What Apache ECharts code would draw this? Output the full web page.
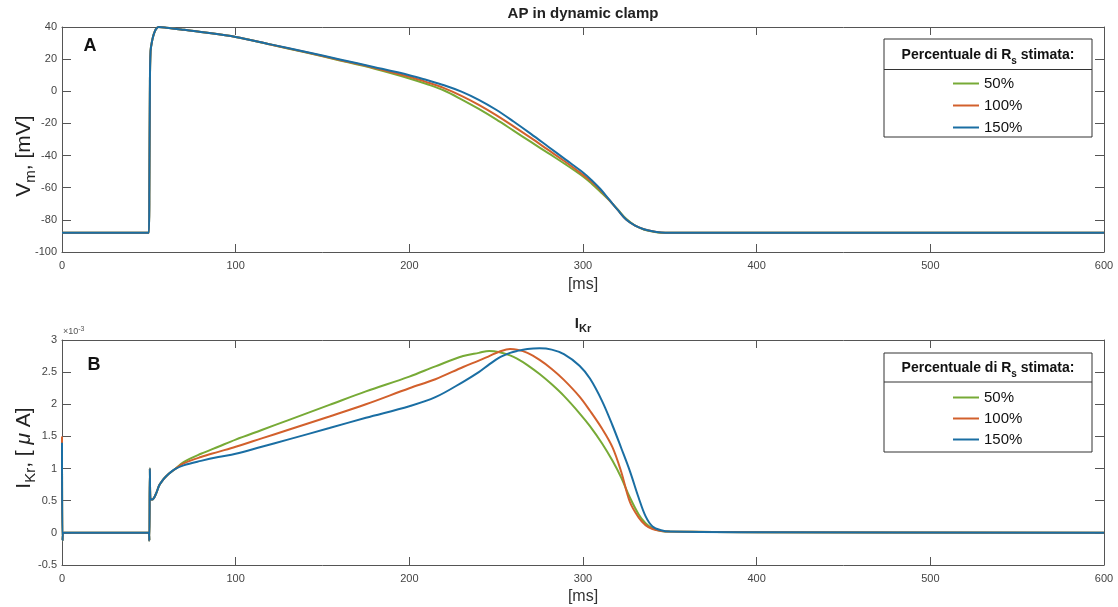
<!DOCTYPE html>
<html><head><meta charset="utf-8">
<script src="https://cdn.jsdelivr.net/npm/echarts@6/dist/echarts.min.js"></script>
<style>html,body{margin:0;padding:0;background:#fff}#c{width:1118px;height:607px}</style>
</head><body><div id="c"></div>
<script>
// ---------- data ----------
const seriesNames = ['50%', '100%', '150%'];
const seriesColors = ['#77AA36', '#D2602C', '#1A6EA3'];

// Panel A: membrane potential [mV] vs time [ms]
const tA = [0, 50, 50.3, 50.6, 51, 52, 53, 54, 55.5, 60,
  70, 80, 100, 120, 140, 160, 180, 200, 210, 220,
  230, 240, 250, 260, 270, 280, 290, 300, 305, 310,
  315, 320, 325, 330, 335, 340, 345, 350, 360, 400,
  500, 600];
const ap50 = [-88, -88, -60, 0, 25, 32, 36, 38.5, 40, 39.6,
  38.3, 36.9, 33.8, 29.1, 24.2, 19.2, 14, 8, 4.5, 0.5,
  -5, -11, -17.5, -24.5, -31.5, -38.5, -45.5, -53, -57.5, -62.5,
  -67.7, -73.5, -79.5, -83.5, -86, -87.3, -88, -88, -88, -88,
  -88, -88];
const ap100 = [-88, -88, -60, 0, 25, 32, 36, 38.5, 40, 39.6,
  38.3, 36.9, 33.8, 29.1, 24.4, 19.5, 14.5, 9, 5.7, 2,
  -2.8, -8.4, -14.8, -21.8, -29, -36.5, -44, -52, -56.3, -61.5,
  -67.5, -73.8, -80, -83.6, -85.8, -87.1, -87.8, -88, -88, -88,
  -88, -88];
const ap150 = [-88, -88, -60, 0, 25, 32, 36, 38.5, 40, 39.6,
  38.3, 36.9, 33.8, 29.2, 24.6, 19.8, 15, 10, 7, 3.8,
  -0.2, -5.3, -11.5, -18.8, -26.5, -34.5, -42.5, -50.5, -55.3, -60.8,
  -67.3, -73.8, -80, -83.6, -85.8, -87.1, -87.8, -88, -88, -88,
  -88, -88];

// Panel B: I_Kr [x10^-3 uA] vs time [ms]
const tB = [0, 0.3, 1, 50, 50.3, 50.6, 51, 52, 54, 56,
  58, 60, 62, 65, 70, 80, 90, 100, 115, 130,
  154, 175, 200, 215, 231, 240, 246, 252, 258, 262,
  268, 275, 282, 289, 298, 304, 311, 317, 322, 327,
  332, 336, 340, 345, 350, 400, 600];
const ikr50 = [1.45, -0.12, 0, 0, -0.12, 1.0, 0.52, 0.52, 0.6, 0.74,
  0.82, 0.88, 0.93, 0.99, 1.1, 1.23, 1.34, 1.45, 1.6, 1.75,
  1.99, 2.2, 2.43, 2.59, 2.75, 2.8, 2.83, 2.81, 2.76, 2.71,
  2.61, 2.47, 2.31, 2.13, 1.86, 1.66, 1.39, 1.12, 0.86, 0.55,
  0.29, 0.15, 0.07, 0.03, 0.02, 0.01, 0];
const ikr100 = [1.5, -0.12, 0, 0, -0.12, 1.0, 0.52, 0.52, 0.6, 0.74,
  0.82, 0.88, 0.93, 0.99, 1.08, 1.18, 1.26, 1.34, 1.47, 1.6,
  1.81, 2.0, 2.25, 2.39, 2.58, 2.68, 2.75, 2.82, 2.86, 2.85,
  2.8, 2.69, 2.55, 2.38, 2.12, 1.9, 1.62, 1.33, 0.95, 0.48,
  0.24, 0.12, 0.06, 0.03, 0.02, 0.01, 0];
const ikr150 = [1.4, -0.12, 0, 0, -0.12, 1.0, 0.52, 0.52, 0.6, 0.74,
  0.82, 0.88, 0.93, 0.99, 1.05, 1.12, 1.18, 1.23, 1.34, 1.45,
  1.63, 1.79, 1.97, 2.11, 2.35, 2.5, 2.62, 2.73, 2.8, 2.83,
  2.86, 2.87, 2.85, 2.78, 2.6, 2.4, 2.05, 1.67, 1.32, 0.96,
  0.55, 0.26, 0.1, 0.04, 0.02, 0.01, 0];

const xRange = [0, 600, 100];        // min, max, interval
const yRangeA = [-100, 40, 20];
const yRangeB = [-0.5, 3, 0.5];

// ---------- chart ----------
const FONT = '"Liberation Sans", Arial, Helvetica, sans-serif';
const AX = '#555';
const LBL = '#444';

function xAx(gi, pos, showLabel) {
  return {
    type: 'value', gridIndex: gi, position: pos,
    min: xRange[0], max: xRange[1], interval: xRange[2],
    axisLine: { show: true, onZero: false, lineStyle: { color: AX, width: 1 } },
    axisTick: { show: true, inside: true, length: 8, lineStyle: { color: AX } },
    axisLabel: { show: showLabel, color: LBL, fontSize: 11, fontFamily: FONT, margin: 8 },
    splitLine: { show: false }
  };
}
function yAx(gi, pos, showLabel, r) {
  return {
    type: 'value', gridIndex: gi, position: pos,
    min: r[0], max: r[1], interval: r[2],
    axisLine: { show: true, onZero: false, lineStyle: { color: AX, width: 1 } },
    axisTick: { show: true, inside: true, length: 9, lineStyle: { color: AX } },
    axisLabel: { show: showLabel, color: LBL, fontSize: 11, fontFamily: FONT, margin: 5 },
    splitLine: { show: false }
  };
}

const dataA = [ap50, ap100, ap150];
const dataB = [ikr50, ikr100, ikr150];
const series = [];
[[tA, dataA], [tB, dataB]].forEach(([t, ds], g) => {
  ds.forEach((vals, s) => {
    series.push({
      type: 'line', name: seriesNames[s],
      xAxisIndex: g * 2, yAxisIndex: g * 2,
      data: t.map((x, i) => [x, vals[i]]),
      symbol: 'none', showSymbol: false, smooth: 0.35,
      lineStyle: { width: 2, color: seriesColors[s] },
      itemStyle: { color: seriesColors[s] },
      z: 2 + s
    });
  });
});

function legendAt(top, gap) {
  return {
    data: seriesNames, left: 953, top: top, orient: 'vertical',
    icon: 'rect', itemWidth: 26, itemHeight: 2, itemGap: gap, padding: 0,
    selectedMode: false, z: 10,
    textStyle: { fontSize: 15, color: '#111', fontFamily: FONT }
  };
}

function boxGraphics(top, h, sep, headY) {
  return [
    { type: 'rect', z: 5, shape: { x: 884, y: top, width: 208, height: h },
      style: { fill: '#fff', stroke: '#333', lineWidth: 1 } },
    { type: 'line', z: 6, shape: { x1: 884, y1: sep, x2: 1092, y2: sep },
      style: { stroke: '#333', lineWidth: 1 } },
    { type: 'text', z: 6, x: 988, y: headY,
      style: { text: '{b|Percentuale di R}{s|s}{b| stimata:}', align: 'center', verticalAlign: 'middle',
        fill: '#111',
        rich: { b: { fontSize: 14, fontWeight: 'bold', fontFamily: FONT, lineHeight: 22, fill: '#111' },
                s: { fontSize: 10, fontWeight: 'bold', fontFamily: FONT, lineHeight: 11, verticalAlign: 'bottom', fill: '#111' } } } }
  ];
}

const graphics = [].concat(
  boxGraphics(39, 98, 69.5, 55),
  boxGraphics(353, 99, 382, 368),
  [
    { type: 'text', x: 583, y: 14,
      style: { text: 'AP in dynamic clamp', align: 'center', verticalAlign: 'middle',
        fontSize: 15, fontWeight: 'bold', fontFamily: FONT, fill: '#222' } },
    { type: 'text', x: 583, y: 324,
      style: { text: '{a|I}{s|Kr}', align: 'center', verticalAlign: 'middle',
        rich: { a: { fontSize: 15, fontWeight: 'bold', fontFamily: FONT, lineHeight: 20, fill: '#222' },
                s: { fontSize: 11, fontWeight: 'bold', fontFamily: FONT, lineHeight: 11, verticalAlign: 'bottom', fill: '#222' } } } },
    { type: 'text', x: 90, y: 46,
      style: { text: 'A', align: 'center', verticalAlign: 'middle',
        fontSize: 18, fontWeight: 'bold', fontFamily: FONT, fill: '#111' } },
    { type: 'text', x: 94, y: 365,
      style: { text: 'B', align: 'center', verticalAlign: 'middle',
        fontSize: 18, fontWeight: 'bold', fontFamily: FONT, fill: '#111' } },
    { type: 'text', x: 583, y: 285,
      style: { text: '[ms]', align: 'center', verticalAlign: 'middle',
        fontSize: 16, fontFamily: FONT, fill: '#333' } },
    { type: 'text', x: 583, y: 597,
      style: { text: '[ms]', align: 'center', verticalAlign: 'middle',
        fontSize: 16, fontFamily: FONT, fill: '#333' } },
    { type: 'text', x: 24, y: 156, rotation: Math.PI / 2,
      style: { text: '{a|V}{s|m}{a|, [mV]}', align: 'center', verticalAlign: 'middle',
        rich: { a: { fontSize: 21, fontFamily: FONT, lineHeight: 28, fill: '#222' },
                s: { fontSize: 15, fontFamily: FONT, lineHeight: 15, verticalAlign: 'bottom', fill: '#222' } } } },
    { type: 'text', x: 24, y: 448, rotation: Math.PI / 2,
      style: { text: '{a|I}{s|Kr}{a|, [ }{i|μ}{a| A]}', align: 'center', verticalAlign: 'middle',
        rich: { a: { fontSize: 21, fontFamily: FONT, lineHeight: 28, fill: '#222' },
                s: { fontSize: 15, fontFamily: FONT, lineHeight: 15, verticalAlign: 'bottom', fill: '#222' },
                i: { fontSize: 21, fontStyle: 'italic', fontFamily: FONT, lineHeight: 28, fill: '#222' } } } },
    { type: 'text', x: 63, y: 332,
      style: { text: '{a|×10}{p|-3}', align: 'left', verticalAlign: 'middle',
        rich: { a: { fontSize: 9, fontFamily: FONT, lineHeight: 12, fill: '#555' },
                p: { fontSize: 7, fontFamily: FONT, lineHeight: 7, verticalAlign: 'top', fill: '#555' } } } }
  ]
);

const option = {
  animation: false,
  backgroundColor: '#fff',
  grid: [
    { left: 62, right: 14, top: 27, height: 225, containLabel: false },
    { left: 62, right: 14, top: 340, height: 225, containLabel: false }
  ],
  xAxis: [xAx(0, 'bottom', true), xAx(0, 'top', false), xAx(1, 'bottom', true), xAx(1, 'top', false)],
  yAxis: [yAx(0, 'left', true, yRangeA), yAx(0, 'right', false, yRangeA),
          yAx(1, 'left', true, yRangeB), yAx(1, 'right', false, yRangeB)],
  legend: [legendAt(76, 7), legendAt(390, 6)],
  series: series,
  graphic: graphics
};

const chart = echarts.init(document.getElementById('c'));
chart.setOption(option);
</script>
</body></html>
